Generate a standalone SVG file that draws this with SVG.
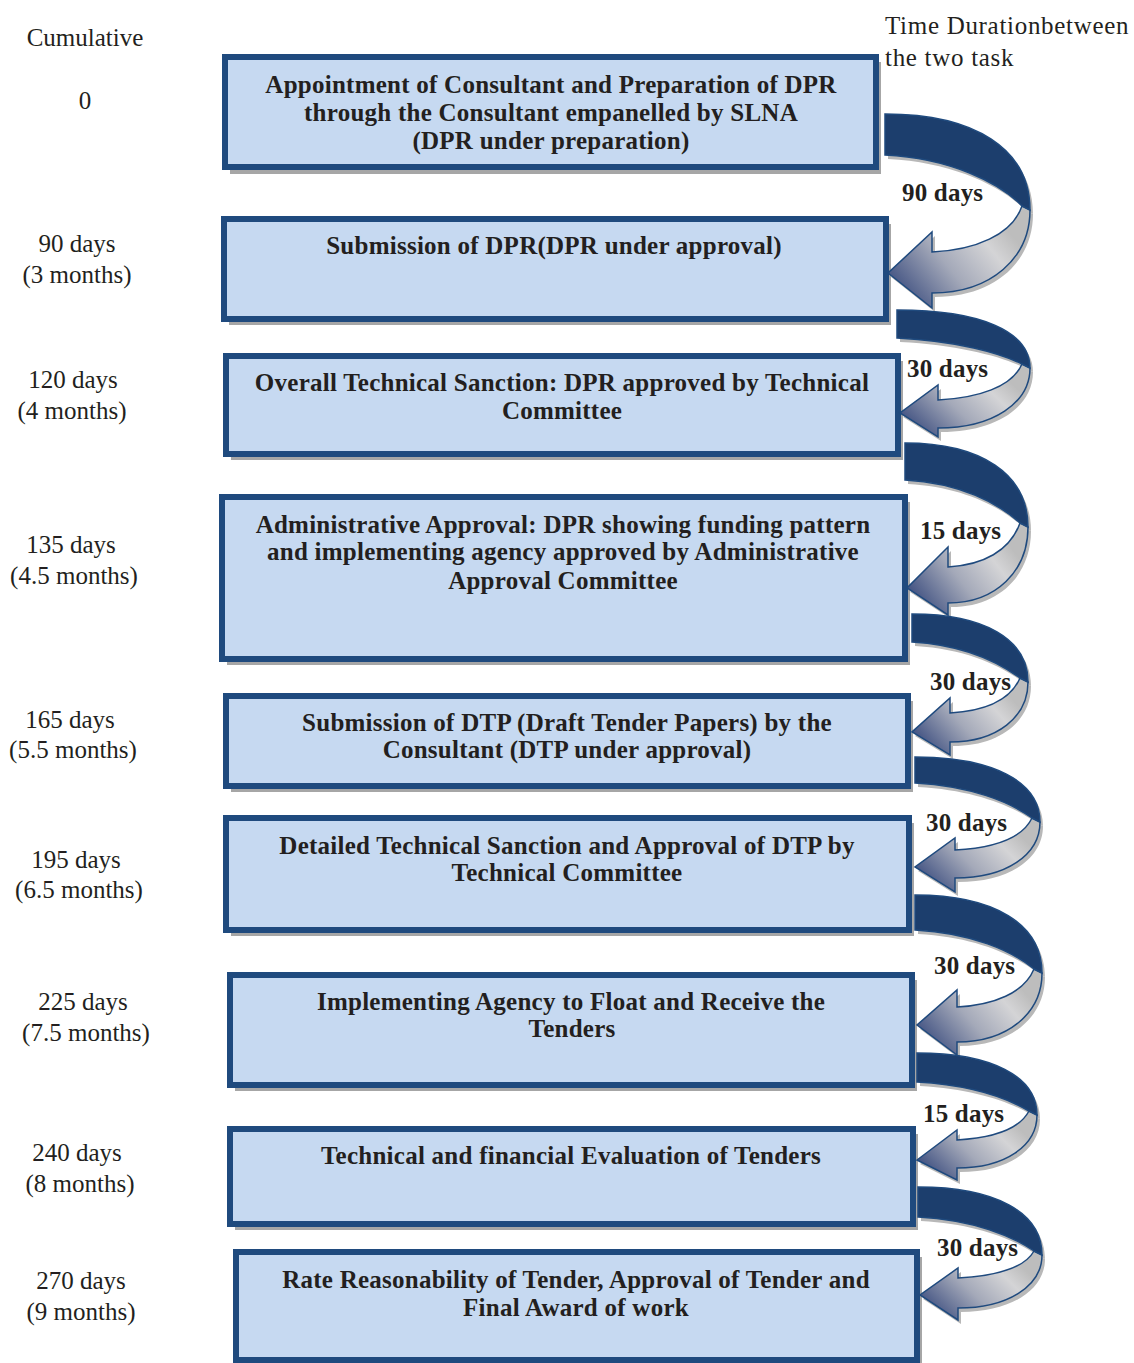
<svg xmlns="http://www.w3.org/2000/svg" width="1134" height="1363" viewBox="0 0 1134 1363">
<defs>
<style>
.sh{fill:#a6a6a6}
.bx{fill:#c6d9f1;stroke:#1f4a7e;stroke-width:6}
.bt{font-family:"Liberation Serif","Times New Roman",serif;font-weight:bold;font-size:25px;fill:#231f20;text-anchor:middle;letter-spacing:0.25px}
.lt{font-family:"Liberation Serif","Times New Roman",serif;font-size:25px;fill:#231f20;text-anchor:middle}
.tt{font-family:"Liberation Serif","Times New Roman",serif;font-size:25px;fill:#231f20;letter-spacing:0.7px}
.dl{font-family:"Liberation Serif","Times New Roman",serif;font-weight:bold;font-size:25px;fill:#231f20;letter-spacing:0.2px}
.ash{fill:#b8b8b8}
.dk{fill:#1c3e6d;stroke:#1f4a7e;stroke-width:1.5}
.lo{fill:url(#g);stroke:#1f4a7e;stroke-width:1.5}
</style>
<linearGradient id="g" x1="0" y1="0.75" x2="0.85" y2="0.25">
<stop offset="0" stop-color="#3e4f80"/>
<stop offset="0.45" stop-color="#a4a9b9"/>
<stop offset="0.8" stop-color="#d4d4d6"/>
<stop offset="1" stop-color="#bdbdbd"/>
</linearGradient>
</defs>
<rect width="1134" height="1363" fill="#ffffff"/>

<g id="header">
<text class="lt" x="85" y="46">Cumulative</text>
<text class="tt" x="885" y="34">Time Durationbetween</text>
<text class="tt" x="885" y="66">the two task</text>
</g>

<g id="cumulative">
<text class="lt" x="85" y="109">0</text>
<text class="lt" x="77" y="252">90 days</text><text class="lt" x="77" y="283">(3 months)</text>
<text class="lt" x="73" y="388">120 days</text><text class="lt" x="72" y="419">(4 months)</text>
<text class="lt" x="71" y="553">135 days</text><text class="lt" x="74" y="584">(4.5 months)</text>
<text class="lt" x="70" y="728">165 days</text><text class="lt" x="73" y="758">(5.5 months)</text>
<text class="lt" x="76" y="868">195 days</text><text class="lt" x="79" y="898">(6.5 months)</text>
<text class="lt" x="83" y="1010">225 days</text><text class="lt" x="86" y="1041">(7.5 months)</text>
<text class="lt" x="77" y="1161">240 days</text><text class="lt" x="80" y="1192">(8 months)</text>
<text class="lt" x="81" y="1289">270 days</text><text class="lt" x="81" y="1320">(9 months)</text>
</g>

<g id="n1">
<rect class="sh" x="230" y="62" width="651" height="112"/>
<rect class="bx" x="225" y="57" width="651" height="110"/>
<text class="bt" x="551" y="93">Appointment of Consultant and Preparation of DPR</text>
<text class="bt" x="551" y="121">through the Consultant empanelled by SLNA</text>
<text class="bt" x="551" y="149">(DPR under preparation)</text>
</g>
<g id="n2">
<rect class="sh" x="229" y="224" width="662" height="101"/>
<rect class="bx" x="224" y="219" width="662" height="100"/>
<text class="bt" x="554" y="254">Submission of DPR(DPR under approval)</text>
</g>
<g id="n3">
<rect class="sh" x="231" y="361" width="672" height="99"/>
<rect class="bx" x="226" y="356" width="672" height="98"/>
<text class="bt" x="562" y="391">Overall Technical Sanction: DPR approved by Technical</text>
<text class="bt" x="562" y="419">Committee</text>
</g>
<g id="n4">
<rect class="sh" x="227" y="502" width="683" height="163"/>
<rect class="bx" x="222" y="497" width="683" height="162"/>
<text class="bt" x="563" y="533">Administrative Approval: DPR showing funding pattern</text>
<text class="bt" x="563" y="560">and implementing agency approved by Administrative</text>
<text class="bt" x="563" y="589">Approval Committee</text>
</g>
<g id="n5">
<rect class="sh" x="231" y="701" width="682" height="91"/>
<rect class="bx" x="226" y="696" width="682" height="90"/>
<text class="bt" x="567" y="731">Submission of DTP (Draft Tender Papers) by the</text>
<text class="bt" x="567" y="758">Consultant (DTP under approval)</text>
</g>
<g id="n6">
<rect class="sh" x="231" y="823" width="683" height="113"/>
<rect class="bx" x="226" y="818" width="683" height="112"/>
<text class="bt" x="567" y="854">Detailed Technical Sanction and Approval of DTP by</text>
<text class="bt" x="567" y="881">Technical Committee</text>
</g>
<g id="n7">
<rect class="sh" x="235" y="980" width="682" height="111"/>
<rect class="bx" x="230" y="975" width="682" height="110"/>
<text class="bt" x="571" y="1010">Implementing Agency to Float and Receive the</text>
<text class="bt" x="572" y="1037">Tenders</text>
</g>
<g id="n8">
<rect class="sh" x="235" y="1134" width="683" height="96"/>
<rect class="bx" x="230" y="1129" width="683" height="95"/>
<text class="bt" x="571" y="1164">Technical and financial Evaluation of Tenders</text>
</g>
<g id="n9">
<rect class="sh" x="241" y="1257" width="681" height="110"/>
<rect class="bx" x="236" y="1252" width="681" height="108"/>
<text class="bt" x="576" y="1288">Rate Reasonability of Tender, Approval of Tender and</text>
<text class="bt" x="576" y="1316">Final Award of work</text>
</g>

<g id="connectors">
<g id="a1">
<g class="ash" transform="translate(3,4)">
<path d="M885,114 C975,114 1030,149 1030,210 L1022,206 C1000,183 950,158 885,155 Z"/>
<path d="M1030,210 C1030,258 991,293 932,293 L932,308 L888,273 L932,232 L932,252 C975,250 1012,235 1022,206 Z"/>
</g>
<path class="lo" d="M1030,210 C1030,258 991,293 932,293 L932,308 L888,273 L932,232 L932,252 C975,250 1012,235 1022,206 Z"/>
<path class="dk" d="M885,114 C975,114 1030,149 1030,210 L1022,206 C1000,183 950,158 885,155 Z"/>
</g>
<g id="a2">
<g class="ash" transform="translate(3,4)">
<path d="M897,310 C980,310 1030,331 1030,368 L1022,364 C1000,353 957,341 897,338 Z"/>
<path d="M1030,368 C1030,403 993,428 938,428 L938,437 L900,413 L938,385 L938,400 C978,398 1012,387 1022,364 Z"/>
</g>
<path class="lo" d="M1030,368 C1030,403 993,428 938,428 L938,437 L900,413 L938,385 L938,400 C978,398 1012,387 1022,364 Z"/>
<path class="dk" d="M897,310 C980,310 1030,331 1030,368 L1022,364 C1000,353 957,341 897,338 Z"/>
</g>
<g id="a3">
<g class="ash" transform="translate(3,4)">
<path d="M905,443 C981,443 1028,474 1028,527 L1020,523 C998,503 960,483 905,480 Z"/>
<path d="M1028,527 C1028,571 996,603 948,603 L948,615 L907,588 L948,547 L948,567 C983,565 1010,551 1020,523 Z"/>
</g>
<path class="lo" d="M1028,527 C1028,571 996,603 948,603 L948,615 L907,588 L948,547 L948,567 C983,565 1010,551 1020,523 Z"/>
<path class="dk" d="M905,443 C981,443 1028,474 1028,527 L1020,523 C998,503 960,483 905,480 Z"/>
</g>
<g id="a4">
<g class="ash" transform="translate(3,4)">
<path d="M912,614 C984,614 1028,639 1028,682 L1020,678 C998,662 964,645 912,642 Z"/>
<path d="M1028,682 C1028,717 997,742 950,742 L950,755 L912,732 L950,698 L950,713 C984,711 1010,701 1020,678 Z"/>
</g>
<path class="lo" d="M1028,682 C1028,717 997,742 950,742 L950,755 L912,732 L950,698 L950,713 C984,711 1010,701 1020,678 Z"/>
<path class="dk" d="M912,614 C984,614 1028,639 1028,682 L1020,678 C998,662 964,645 912,642 Z"/>
</g>
<g id="a5">
<g class="ash" transform="translate(3,4)">
<path d="M915,757 C992,757 1040,781 1040,822 L1032,818 C1010,802 971,786 915,783 Z"/>
<path d="M1040,822 C1040,855 1006,878 955,878 L955,892 L915,867 L955,838 L955,850 C992,848 1022,839 1032,818 Z"/>
</g>
<path class="lo" d="M1040,822 C1040,855 1006,878 955,878 L955,892 L915,867 L955,838 L955,850 C992,848 1022,839 1032,818 Z"/>
<path class="dk" d="M915,757 C992,757 1040,781 1040,822 L1032,818 C1010,802 971,786 915,783 Z"/>
</g>
<g id="a6">
<g class="ash" transform="translate(3,4)">
<path d="M915,895 C994,895 1042,924 1042,973 L1034,969 C1012,951 972,933 915,930 Z"/>
<path d="M1042,973 C1042,1013 1008,1042 957,1042 L957,1055 L917,1025 L957,990 L957,1007 C994,1005 1024,993 1034,969 Z"/>
</g>
<path class="lo" d="M1042,973 C1042,1013 1008,1042 957,1042 L957,1055 L917,1025 L957,990 L957,1007 C994,1005 1024,993 1034,969 Z"/>
<path class="dk" d="M915,895 C994,895 1042,924 1042,973 L1034,969 C1012,951 972,933 915,930 Z"/>
</g>
<g id="a7">
<g class="ash" transform="translate(3,4)">
<path d="M917,1053 C991,1053 1037,1076 1037,1115 L1029,1111 C1007,1098 971,1085 917,1082 Z"/>
<path d="M1037,1115 C1037,1146 1005,1168 957,1168 L957,1180 L917,1160 L957,1130 L957,1140 C992,1138 1019,1130 1029,1111 Z"/>
</g>
<path class="lo" d="M1037,1115 C1037,1146 1005,1168 957,1168 L957,1180 L917,1160 L957,1130 L957,1140 C992,1138 1019,1130 1029,1111 Z"/>
<path class="dk" d="M917,1053 C991,1053 1037,1076 1037,1115 L1029,1111 C1007,1098 971,1085 917,1082 Z"/>
</g>
<g id="a8">
<g class="ash" transform="translate(3,4)">
<path d="M918,1187 C995,1187 1042,1212 1042,1255 L1034,1251 C1012,1236 974,1220 918,1217 Z"/>
<path d="M1042,1255 C1042,1286 1008,1308 958,1308 L958,1320 L920,1295 L958,1268 L958,1278 C995,1276 1024,1269 1034,1251 Z"/>
</g>
<path class="lo" d="M1042,1255 C1042,1286 1008,1308 958,1308 L958,1320 L920,1295 L958,1268 L958,1278 C995,1276 1024,1269 1034,1251 Z"/>
<path class="dk" d="M918,1187 C995,1187 1042,1212 1042,1255 L1034,1251 C1012,1236 974,1220 918,1217 Z"/>
</g>
<g id="labels">
<text class="dl" x="902" y="201">90 days</text>
<text class="dl" x="907" y="377">30 days</text>
<text class="dl" x="920" y="539">15 days</text>
<text class="dl" x="930" y="690">30 days</text>
<text class="dl" x="926" y="831">30 days</text>
<text class="dl" x="934" y="974">30 days</text>
<text class="dl" x="923" y="1122">15 days</text>
<text class="dl" x="937" y="1256">30 days</text>
</g>
</g>
</svg>
